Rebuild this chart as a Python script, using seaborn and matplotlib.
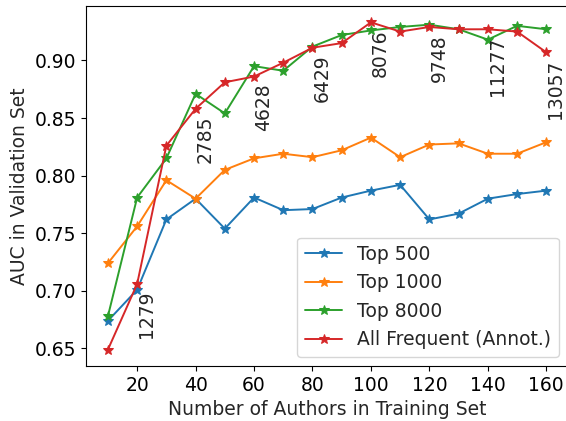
import matplotlib
matplotlib.use("Agg")
import matplotlib.pyplot as plt
import seaborn as sns
import pandas as pd

authors = [10, 20, 30, 40, 50, 60, 70, 80, 90, 100, 110, 120, 130, 140, 150, 160]
top500 = [0.674, 0.701, 0.762, 0.780, 0.754, 0.781, 0.770, 0.771, 0.781, 0.787,
          0.792, 0.762, 0.767, 0.780, 0.784, 0.787]
top1000 = [0.724, 0.756, 0.796, 0.780, 0.805, 0.815, 0.819, 0.816, 0.822, 0.833,
           0.816, 0.827, 0.828, 0.819, 0.819, 0.829]
top8000 = [0.678, 0.781, 0.815, 0.871, 0.854, 0.895, 0.891, 0.912, 0.922, 0.926,
           0.929, 0.931, 0.927, 0.918, 0.930, 0.927]
all_freq = [0.649, 0.706, 0.826, 0.858, 0.881, 0.886, 0.898, 0.911, 0.915, 0.933,
            0.925, 0.929, 0.927, 0.927, 0.925, 0.907]
series_names = ["Top 500", "Top 1000", "Top 8000", "All Frequent (Annot.)"]
annot_x = [20, 40, 60, 80, 100, 120, 140, 160]
annot_labels = ["1279", "2785", "4628", "6429", "8076", "9748", "11277", "13057"]

sns.set_style("white")
plt.rcParams["font.family"] = ["DejaVu Sans"]
fs = 13.5

fig = plt.figure(figsize=(5.66, 4.21), dpi=100)
ax = fig.add_axes([86 / 566, 55 / 421, (568.2 - 86) / 566, 360 / 421])

colors = sns.color_palette("tab10")
for name, vals, c in zip(series_names, [top500, top1000, top8000, all_freq], colors):
    df = pd.DataFrame({"x": authors, "y": vals})
    sns.lineplot(data=df, x="x", y="y", ax=ax, color=c, marker="*", markersize=7,
                 markeredgecolor=c, markerfacecolor=c, linewidth=1.4, label=name)

red_map = dict(zip(authors, all_freq))
for xv, lab in zip(annot_x, annot_labels):
    ax.text(xv, red_map[xv] - 0.006, lab, rotation=90, ha="left", va="top", fontsize=fs)

ax.set_xlim(2.5, 167.5)
ax.set_ylim(0.6348, 0.9472)
ax.set_xticks([20, 40, 60, 80, 100, 120, 140, 160])
ax.set_yticks([0.65, 0.70, 0.75, 0.80, 0.85, 0.90])
ax.set_yticklabels(["0.65", "0.70", "0.75", "0.80", "0.85", "0.90"])
ax.tick_params(axis="both", labelsize=fs, length=3.5, width=0.8, direction="out",
               bottom=True, left=True, colors="black")
ax.set_xlabel("Number of Authors in Training Set", fontsize=fs)
ax.set_ylabel("AUC in Validation Set", fontsize=fs)
for s in ax.spines.values():
    s.set_color("black")
    s.set_linewidth(0.8)
ax.legend(loc="lower right", fontsize=fs, frameon=True)

fig.savefig("out.png", dpi=100)
